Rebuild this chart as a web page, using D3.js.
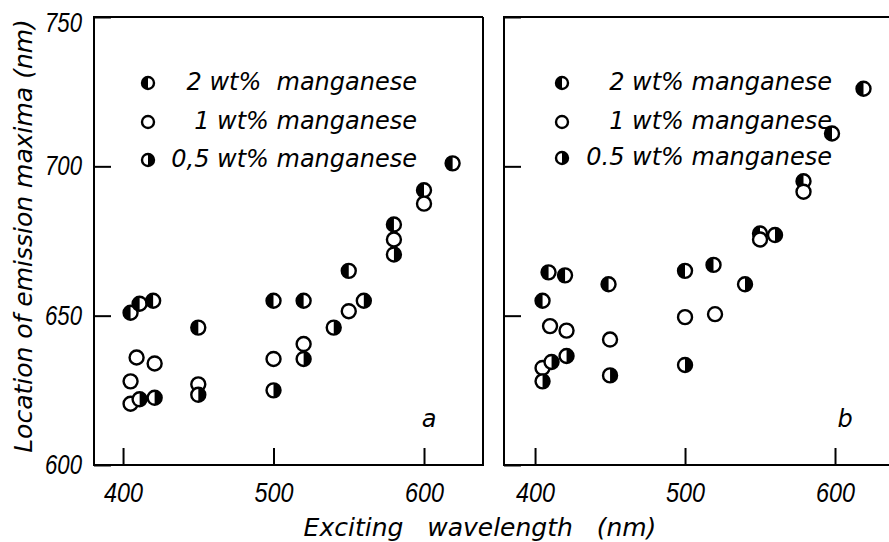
<!DOCTYPE html>
<html>
<head>
<meta charset="utf-8">
<script src="https://cdn.jsdelivr.net/npm/d3@7"></script>
<style>
body { margin: 0; background: #fff; }
svg text { white-space: pre; }
.tick text { font-family: "Liberation Sans", Arial, sans-serif; font-style: italic; font-size: 27px; fill: #000; }
.tick line { stroke: #000; stroke-width: 2px; }
.lbl { font-family: "DejaVu Sans", sans-serif; font-style: italic; font-size: 24px; fill: #000; }
.title { font-family: "DejaVu Sans", sans-serif; font-style: italic; font-size: 25px; fill: #000; }
</style>
</head>
<body>
<div id="chart"></div>
<script>
// series names and marker kinds
var seriesNames = ["2 wt%  manganese", "1 wt% manganese", "0,5 wt% manganese"];
var seriesNamesB = ["2 wt% manganese", "1 wt% manganese", "0.5 wt% manganese"];
var markerKinds = ["left", "open", "right"];

// panel a : [exciting wavelength, emission maximum]
var a2wt = [[405,651],[411,654],[420,655],[450,646],[500,655],[520,655],[550,665],[580,680.5],[600,692],[619,701]];
var a1wt = [[405,628],[405,620.5],[409,636],[421,634],[450,627],[500,635.5],[520,640.5],[550,651.5],[580,675.5],[600,687.5]];
var a05wt = [[411,622],[421,622.5],[450,623.5],[500,625],[520,635.5],[540,646],[560,655],[580,670.5]];

// panel b
var b2wt = [[405,655],[409,664.5],[420,663.5],[449,660.5],[500,665],[519,667],[550,677.5],[579,695],[598,711],[619,726]];
var b1wt = [[405,632.5],[410,646.5],[421,645],[450,642],[500,649.5],[520,650.5],[550,675.5],[579,691.5]];
var b05wt = [[405,628],[411,634.5],[421,636.5],[450,630],[500,633.5],[540,660.5],[560,677]];

var xTicks = [400, 500, 600];
var yTicks = [600, 650, 700, 750];

var W = 889, H = 542;
var svg = d3.select("#chart").append("svg")
	.attr("width", W)
	.attr("height", H);

var y = d3.scaleLinear().domain([600, 750]).range([465, 17]);

var panels = [
	{ x: d3.scaleLinear().domain([380.7, 639.2]).range([94, 483]), data: [a2wt, a1wt, a05wt],
	  names: seriesNames, letter: "a", letterX: 429, legX: 148, textX: 417, rows: [83, 122, 160], labels: true, closed: true },
	{ x: d3.scaleLinear().domain([379.3, 640]).range([504, 895]), data: [b2wt, b1wt, b05wt],
	  names: seriesNamesB, letter: "b", letterX: 845, legX: 562, textX: 832, rows: [83, 122, 158], labels: false, closed: false }
];

function marker(g, kind, r) {
	g.append("circle")
		.attr("r", r)
		.attr("fill", "#fff")
		.attr("stroke", "#000")
		.attr("stroke-width", 2.4);
	if (kind == "left") {
		g.append("path").attr("d", "M0," + (-r) + "A" + r + "," + r + " 0 0 0 0," + r + "Z").attr("fill", "#000");
	} else if (kind == "right") {
		g.append("path").attr("d", "M0," + (-r) + "A" + r + "," + r + " 0 0 1 0," + r + "Z").attr("fill", "#000");
	}
}

panels.forEach(function (p) {
	var x = p.x;
	var x0 = x.range()[0], x1 = x.range()[1];
	var g = svg.append("g");

	// frame
	var frame = "M" + x1 + "," + y(750) + "H" + x0 + "V" + y(600) + "H" + x1;
	if (p.closed) frame += "V" + y(750);
	g.append("path")
		.attr("d", frame)
		.attr("fill", "none")
		.attr("stroke", "#000")
		.attr("stroke-width", 2);

	var xAxis = d3.axisBottom(x).tickValues(xTicks).tickSizeInner(-17).tickSizeOuter(0);
	var gx = g.append("g")
		.attr("transform", "translate(0," + y(600) + ")")
		.call(xAxis);
	gx.select(".domain").remove();
	gx.selectAll(".tick text")
		.attr("dy", null)
		.attr("y", 37)
		.attr("textLength", 39)
		.attr("lengthAdjust", "spacingAndGlyphs");

	var yAxis = d3.axisLeft(y).tickValues(yTicks).tickSizeInner(-17).tickSizeOuter(0);
	if (!p.labels) yAxis.tickFormat("");
	var gy = g.append("g")
		.attr("transform", "translate(" + x0 + ",0)")
		.call(yAxis);
	gy.select(".domain").remove();
	if (p.labels) {
		gy.selectAll(".tick text")
			.attr("x", -12)
			.attr("textLength", 37)
			.attr("lengthAdjust", "spacingAndGlyphs");
		gy.selectAll(".tick").filter(function (d) { return d == 750; }).select("text").attr("dy", "0.55em");
	}

	// points
	p.data.forEach(function (series, i) {
		g.selectAll(null)
			.data(series)
			.enter()
			.append("g")
			.attr("transform", function (d) { return "translate(" + x(d[0]) + "," + y(d[1]) + ")"; })
			.each(function () { marker(d3.select(this), markerKinds[i], 7); });
	});

	// legend
	p.names.forEach(function (name, i) {
		var lg = g.append("g").attr("transform", "translate(" + p.legX + "," + p.rows[i] + ")");
		marker(lg, markerKinds[i], 6);
		g.append("text")
			.attr("class", "lbl")
			.attr("x", p.textX)
			.attr("y", p.rows[i] + 7)
			.attr("text-anchor", "end")
			.text(name);
	});

	g.append("text")
		.attr("class", "lbl")
		.attr("x", p.letterX)
		.attr("y", 427)
		.attr("text-anchor", "middle")
		.text(p.letter);
});

svg.append("text")
	.attr("class", "title")
	.attr("x", 480)
	.attr("y", 536)
	.attr("text-anchor", "middle")
	.text("Exciting   wavelength   (nm)");

svg.append("text")
	.attr("class", "title")
	.attr("transform", "translate(32,236) rotate(-90)")
	.attr("text-anchor", "middle")
	.text("Location of emission maxima (nm)");
</script>
</body>
</html>
